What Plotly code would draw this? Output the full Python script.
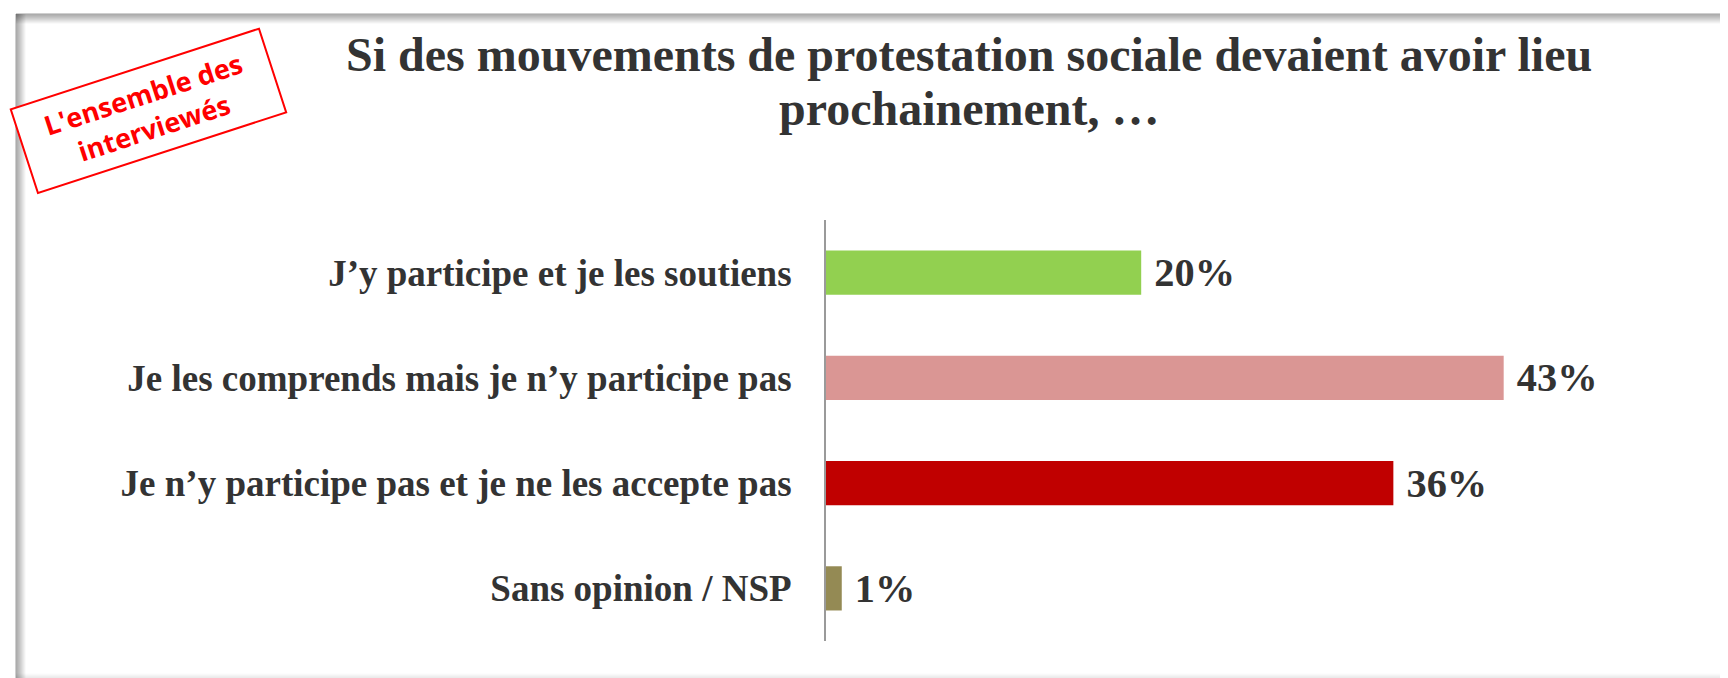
import plotly.graph_objects as go

# data
categories = [
    "J’y participe et je les soutiens",
    "Je les comprends mais je n’y participe pas",
    "Je n’y participe pas et je ne les accepte pas",
    "Sans opinion / NSP",
]
values = [20, 43, 36, 1]
bar_colors = ["#92D050", "#DA9694", "#C00000", "#948A54"]

title_lines = ["Si des mouvements de protestation sociale devaient avoir lieu",
               "prochainement, …"]
stamp_text = "L'ensemble des<br>interviewés"

W, H = 1728, 678
L, R, T, B = 818, 122, 212, 45
PW, PH = W - L - R, H - T - B
SERIF = "Times New Roman, Liberation Serif, serif"
TXT = "#333333"


def px(x):
    return (x - L) / PW


def py(y):
    return (H - B - y) / PH


fig = go.Figure(go.Bar(
    y=categories, x=values, orientation="h",
    marker=dict(color=bar_colors, line=dict(width=0)),
    text=[f" {v}%" for v in values], textposition="outside",
    textfont=dict(family=SERIF, size=42, color=TXT, weight="bold"),
    cliponaxis=False, hoverinfo="skip",
))

# frame with a soft shadow, like the exported slide
shapes = []
for i in range(10):
    a = 0.38 * (1 - i / 10)
    shapes.append(dict(type="line", xref="paper", yref="paper",
                       x0=px(8), x1=px(W), y0=py(6 + i), y1=py(6 + i),
                       line=dict(color=f"rgba(0,0,0,{a:.3f})", width=1)))
    shapes.append(dict(type="line", xref="paper", yref="paper",
                       x0=px(8 + i), x1=px(8 + i), y0=py(6), y1=py(H),
                       line=dict(color=f"rgba(0,0,0,{a:.3f})", width=1)))
for i in range(12):
    a = 0.22 * (1 - i / 12)
    shapes.append(dict(type="line", xref="paper", yref="paper",
                       x0=px(8), x1=px(W), y0=py(H - 1 - i), y1=py(H - 1 - i),
                       line=dict(color=f"rgba(0,0,0,{a:.3f})", width=1)))

annotations = [
    dict(text=line, xref="paper", yref="paper", x=px(961), y=py(yc),
         xanchor="center", yanchor="middle", showarrow=False,
         font=dict(family=SERIF, size=48, color=TXT, weight="bold"))
    for line, yc in zip(title_lines, [46, 100])
]
annotations.append(dict(
    text=stamp_text, xref="paper", yref="paper", x=px(140), y=py(103),
    xanchor="center", yanchor="middle", showarrow=False, textangle=-18,
    width=245, height=72, align="center",
    bordercolor="#FF0000", borderwidth=2, borderpad=7, bgcolor="white",
    font=dict(family="Open Sans, sans-serif", size=27, color="#FF0000", weight="bold"),
))

fig.update_layout(
    width=W, height=H,
    margin=dict(l=L, r=R, t=T, b=B),
    paper_bgcolor="white", plot_bgcolor="white",
    showlegend=False,
    bargap=0.58,
    xaxis=dict(visible=False, range=[0, 50]),
    yaxis=dict(type="category", categoryarray=categories, autorange="reversed",
               showline=True, linecolor="#9a9a9a", linewidth=2,
               showgrid=False, zeroline=False, ticks="",
               ticklabelstandoff=25,
               tickfont=dict(family=SERIF, size=37, color=TXT, weight="bold")),
    shapes=shapes,
    annotations=annotations,
)

fig.write_html("out.html")
